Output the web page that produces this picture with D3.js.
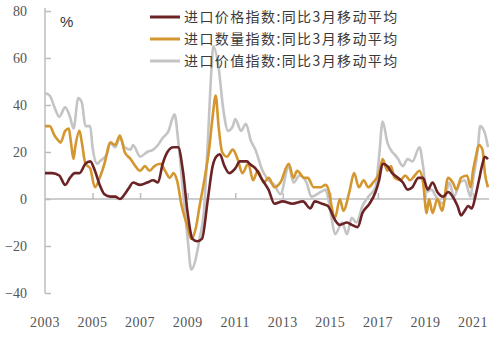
<!DOCTYPE html>
<html><head><meta charset="utf-8">
<script src="https://cdn.jsdelivr.net/npm/d3@7"></script>
<style>body{margin:0;background:#fff}</style>
</head><body>
<svg id="c" width="500" height="347"></svg>
<script>
const seriesNames = ["进口价格指数:同比3月移动平均","进口数量指数:同比3月移动平均","进口价值指数:同比3月移动平均"];
const seriesColors = ["#6b2326","#d4962f","#c4c4c4"];
const yTicks = [-40,-20,0,20,40,60,80];
const xTickLabels = [2003,2005,2007,2009,2011,2013,2015,2017,2019,2021];

const priceData = [[2003.0,11],[2003.3,11],[2003.6,10],[2003.85,6],[2004.05,9],[2004.25,11],[2004.45,11],[2004.7,15],[2004.9,16],[2005.1,12],[2005.3,6],[2005.5,2],[2005.75,1],[2005.95,1],[2006.15,0],[2006.35,2],[2006.55,5],[2006.7,7],[2007.0,6],[2007.3,7],[2007.55,8],[2007.75,7],[2007.95,15],[2008.15,20],[2008.4,22],[2008.6,22],[2008.8,12],[2009.0,-6],[2009.2,-17],[2009.4,-18],[2009.6,-17],[2009.85,0],[2010.05,14],[2010.2,18],[2010.35,19],[2010.55,14],[2010.75,11],[2011.0,13],[2011.2,16],[2011.5,16],[2011.6,15],[2011.85,13],[2012.15,8],[2012.4,4],[2012.65,-2],[2013.0,-1],[2013.4,-2],[2013.85,-1],[2014.15,-4],[2014.35,-1],[2014.65,-2],[2014.9,-3],[2015.2,-9],[2015.4,-11],[2015.7,-10],[2015.9,-11],[2016.15,-12],[2016.35,-6],[2016.65,-2],[2016.9,3],[2017.05,8],[2017.2,15],[2017.4,14],[2017.6,11],[2017.85,9],[2018.05,7],[2018.25,4],[2018.45,5],[2018.7,9],[2018.9,9],[2019.1,4],[2019.3,7],[2019.5,3],[2019.75,1],[2019.95,3],[2020.15,1],[2020.35,-3],[2020.5,-7],[2020.65,-5],[2020.8,-3],[2020.95,-4],[2021.1,1],[2021.25,8],[2021.4,15],[2021.5,18],[2021.63,17]];

const volumeData = [[2003.0,31],[2003.2,31],[2003.4,27],[2003.55,25],[2003.65,24],[2003.85,29],[2004.0,30],[2004.08,25],[2004.2,17],[2004.27,22],[2004.45,29],[2004.55,24],[2004.7,15],[2004.9,13],[2005.1,5],[2005.3,9],[2005.5,15],[2005.75,24],[2005.95,23],[2006.15,27],[2006.35,20],[2006.6,17],[2006.8,14],[2007.0,12],[2007.2,14],[2007.4,12],[2007.6,14],[2007.85,15],[2008.05,12],[2008.25,9],[2008.4,11],[2008.55,8],[2008.75,-3],[2009.0,-12],[2009.15,-17],[2009.35,-12],[2009.5,-3],[2009.7,8],[2009.9,21],[2010.05,35],[2010.18,44],[2010.3,31],[2010.45,20],[2010.65,18],[2010.9,21],[2011.1,17],[2011.3,11],[2011.55,15],[2011.75,8],[2011.95,12],[2012.2,7],[2012.4,9],[2012.65,5],[2012.9,7],[2013.25,15],[2013.45,9],[2013.6,12],[2013.9,9],[2014.05,9],[2014.3,5],[2014.6,5],[2014.8,6],[2014.95,3],[2015.05,-3],[2015.2,-8],[2015.4,0],[2015.55,-5],[2015.8,3],[2016.0,11],[2016.2,5],[2016.4,8],[2016.6,5],[2016.8,7],[2017.05,11],[2017.2,17],[2017.4,12],[2017.55,14],[2017.7,9],[2017.95,8],[2018.15,10],[2018.35,8],[2018.55,10],[2018.75,12],[2018.9,7],[2019.05,-6],[2019.15,0],[2019.3,-6],[2019.5,0],[2019.7,-5],[2019.95,9],[2020.15,7],[2020.3,4],[2020.5,9],[2020.75,10],[2020.9,5],[2021.0,12],[2021.1,17],[2021.25,23],[2021.4,21],[2021.5,11],[2021.63,5]];

const valueData = [[2003.0,45],[2003.2,44],[2003.4,39],[2003.6,35],[2003.85,39],[2004.05,35],[2004.2,30],[2004.4,43],[2004.55,41],[2004.7,31],[2004.9,31],[2005.0,22],[2005.2,15],[2005.3,16],[2005.6,19],[2005.75,24],[2005.95,22],[2006.15,26],[2006.35,22],[2006.6,21],[2006.7,23],[2007.0,18],[2007.3,20],[2007.55,21],[2007.75,23],[2007.95,26],[2008.2,29],[2008.35,34],[2008.45,36],[2008.6,25],[2008.8,4],[2009.0,-17],[2009.15,-30],[2009.5,-17],[2009.7,-3],[2009.85,25],[2010.0,55],[2010.08,65],[2010.3,56],[2010.5,38],[2010.7,29],[2010.9,31],[2011.0,34],[2011.25,29],[2011.45,32],[2011.65,25],[2011.85,21],[2012.15,12],[2012.4,8],[2012.65,6],[2012.9,2],[2013.25,14],[2013.45,7],[2013.7,10],[2014.0,7],[2014.2,1],[2014.6,3],[2014.8,4],[2014.95,-2],[2015.05,-8],[2015.2,-15],[2015.5,-10],[2015.7,-15],[2015.9,-8],[2016.1,-10],[2016.35,-3],[2016.6,1],[2016.9,5],[2017.05,18],[2017.2,33],[2017.4,24],[2017.6,20],[2017.7,19],[2017.85,17],[2018.05,14],[2018.25,17],[2018.45,16],[2018.75,22],[2018.9,14],[2019.05,3],[2019.25,4],[2019.45,1],[2019.75,-2],[2020.0,7],[2020.2,1],[2020.45,7],[2020.65,8],[2020.9,1],[2021.0,8],[2021.2,21],[2021.3,31],[2021.5,28],[2021.63,22]];

const svg = d3.select("#c");
const x = d3.scaleLinear().domain([2003, 2021]).range([45, 473]);
const y = d3.scaleLinear().domain([-40, 80]).range([293, 11]);
const axisColor = "#bdbdbd";
const serif = "'Liberation Serif','DejaVu Serif',serif";

// y axis
const ya = svg.append("g").attr("transform", "translate(45,0)")
  .call(d3.axisRight(y).tickValues(yTicks).tickSize(6).tickFormat(""));
ya.select(".domain").attr("stroke", axisColor).attr("stroke-width", 1.5).attr("d", `M0,${y(80)-3}V${y(-40)}`);
ya.selectAll(".tick line").attr("stroke", axisColor).attr("stroke-width", 1.5);
svg.append("g").selectAll("text").data(yTicks).join("text")
  .attr("x", 27).attr("y", d => y(d)).attr("dy", "0.35em")
  .attr("text-anchor", "end").attr("font-family", serif).attr("font-size", 14)
  .attr("fill", "#555").text(d => d < 0 ? "\u2212" + Math.abs(d) : d);

// x axis at zero
const xa = svg.append("g").attr("transform", `translate(0,${y(0)})`)
  .call(d3.axisTop(x).tickValues(xTickLabels.slice(1)).tickSize(6).tickFormat(""));
xa.select(".domain").attr("stroke", axisColor).attr("stroke-width", 1.5).attr("d", `M45,0H489`);
xa.selectAll(".tick line").attr("stroke", axisColor).attr("stroke-width", 1.5);
svg.append("g").selectAll("text").data(xTickLabels).join("text")
  .attr("x", d => x(d)).attr("y", 327).attr("text-anchor", "middle")
  .attr("font-family", serif).attr("font-size", 14).attr("letter-spacing", 0.5)
  .attr("fill", "#555").text(d => d);

svg.append("text").attr("x", 60).attr("y", 27).attr("font-family", "'Liberation Sans',Arial,sans-serif")
  .attr("font-size", 15).attr("fill", "#333").text("%");

const line = d3.line().x(d => x(d[0])).y(d => y(d[1])).curve(d3.curveMonotoneX);
const datasets = [priceData, volumeData, valueData];
[2, 1, 0].forEach(i => {
  svg.append("path").datum(datasets[i]).attr("d", line)
    .attr("fill", "none").attr("stroke", seriesColors[i]).attr("stroke-width", 2.6)
    .attr("stroke-linejoin", "round");
});

// legend
const lg = svg.append("g");
seriesNames.forEach((n, i) => {
  const yy = 17 + i * 22;
  lg.append("line").attr("x1", 150).attr("x2", 180).attr("y1", yy).attr("y2", yy)
    .attr("stroke", seriesColors[i]).attr("stroke-width", 3);
  lg.append("text").attr("x", 184).attr("y", yy).attr("dy", "0.35em")
    .attr("font-family", "'Noto Sans CJK SC',sans-serif").attr("font-size", 14)
    .attr("letter-spacing", 1.4)
    .attr("fill", "#3a3a3a").text(n);
});
</script>
</body></html>
